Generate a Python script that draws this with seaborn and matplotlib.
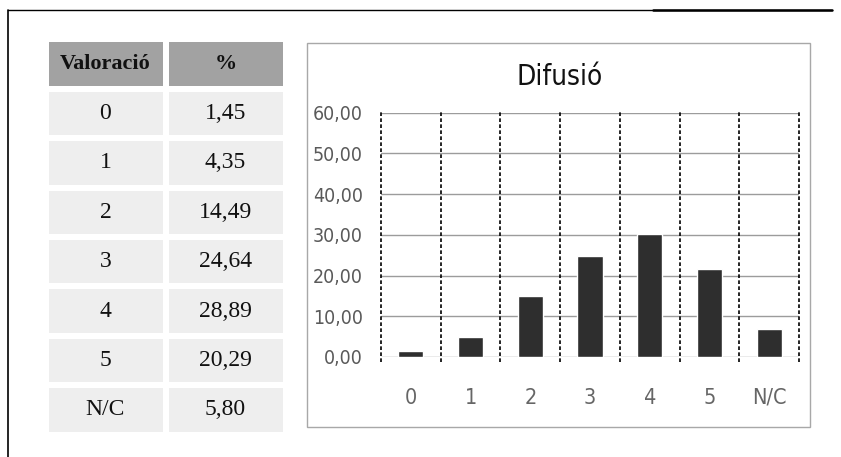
import numpy as np
import pandas as pd
import matplotlib
matplotlib.use('Agg')
import matplotlib.pyplot as plt
from matplotlib.colors import ListedColormap
from matplotlib.lines import Line2D
from matplotlib.patches import Rectangle
from matplotlib import font_manager
import seaborn as sns

# ── Data ──────────────────────────────────────────────────────────────────────
TABLE_HEADER = ['Valoració', '%']
RATINGS      = ['0', '1', '2', '3', '4', '5', 'N/C']
PCT_TEXT     = ['1,45', '4,35', '14,49', '24,64', '28,89', '20,29', '5,80']

# bar heights as drawn in the chart
BAR_HEIGHTS  = [1.5, 5.0, 15.0, 24.9, 30.2, 21.5, 6.8]
Y_TICKS      = [0, 10, 20, 30, 40, 50, 60]
CHART_TITLE  = 'Difusió'

# ── Style ─────────────────────────────────────────────────────────────────────
sns.set_style('white')
SERIF = ['Liberation Serif', 'DejaVu Serif']
plt.rcParams['font.family'] = ['DejaVu Sans']

# condensed face if the system has one, else plain DejaVu at a smaller size
has_cond = any('Condensed' in f.fname for f in font_manager.fontManager.ttflist
               if 'DejaVu Sans' in f.name)
narrow = dict(fontstretch='condensed')
shrink = 1.0 if has_cond else 0.85

W, H = 841, 457
fig = plt.figure(figsize=(W / 100, H / 100), dpi=100)


def fx(px):
    return px / W


def fy(py):
    return 1 - py / H


# page border (scan edge)
fig.add_artist(Line2D([fx(8), fx(8)], [fy(10), fy(457)], color='black', lw=1.2))
fig.add_artist(Line2D([fx(8), fx(832)], [fy(10), fy(10)], color='black', lw=1.0))
fig.add_artist(Line2D([fx(653), fx(832)], [fy(10), fy(10)], color='black', lw=1.8))

# ── Table (heatmap) ───────────────────────────────────────────────────────────
labels = np.array([TABLE_HEADER] + [[r, p] for r, p in zip(RATINGS, PCT_TEXT)])
shade = np.zeros(labels.shape)
shade[0, :] = 1

ax_t = fig.add_axes([fx(45.5), fy(434.5), fx(240), (395) / H])
sns.heatmap(shade, annot=labels, fmt='', cbar=False,
            cmap=ListedColormap(['#eeeeee', '#a2a2a2']), vmin=0, vmax=1,
            linewidths=4, linecolor='white',
            xticklabels=False, yticklabels=False,
            annot_kws={'size': 17, 'color': '#111111', 'family': SERIF},
            ax=ax_t)
for i, t in enumerate(ax_t.texts):
    if i < 2:
        t.set_fontweight('bold')
        t.set_fontsize(16)

# ── Chart panel ───────────────────────────────────────────────────────────────
fig.add_artist(Rectangle((fx(307), fy(427)), fx(503), 384.5 / H,
                         fill=False, edgecolor='#a8a8a8', lw=1.0))
fig.text(fx(560), fy(77), CHART_TITLE, ha='center', va='center',
         fontsize=20 * shrink, color='#111111', **narrow)

df = pd.DataFrame({'cat': RATINGS, 'val': BAR_HEIGHTS})
ax = fig.add_axes([fx(381), fy(357), fx(418), 244.3 / H])
sns.barplot(data=df, x='cat', y='val', order=RATINGS, color='#2e2e2e',
            width=0.42, saturation=1, ax=ax, zorder=3)

ax.set_ylim(0, 60)
ax.set_xlim(-0.5, len(RATINGS) - 0.5)
ax.set_yticks(Y_TICKS)
ax.set_yticklabels([f'{v:.2f}'.replace('.', ',') for v in Y_TICKS], **narrow)
ax.set_xticks(range(len(RATINGS)))
ax.set_xticklabels(RATINGS, **narrow)
ax.set_xlabel('')
ax.set_ylabel('')
ax.yaxis.grid(True, color='#9c9c9c', lw=1.0, zorder=0)
ax.xaxis.grid(False)
for s in ax.spines.values():
    s.set_visible(False)
ax.tick_params(axis='y', length=0, pad=13, labelsize=14 * shrink,
               labelcolor='#5a5a5a')
ax.tick_params(axis='x', length=0, pad=22, labelsize=15.5 * shrink,
               labelcolor='#666666')

# dashed category separators
ax.vlines(np.arange(len(RATINGS) + 1) - 0.5, -1.3, 60.6,
          colors='black', linestyles=(0, (2.2, 1.4)), lw=1.2,
          clip_on=False, zorder=4)

plt.savefig('out.png', dpi=100, facecolor='white')
plt.close()
